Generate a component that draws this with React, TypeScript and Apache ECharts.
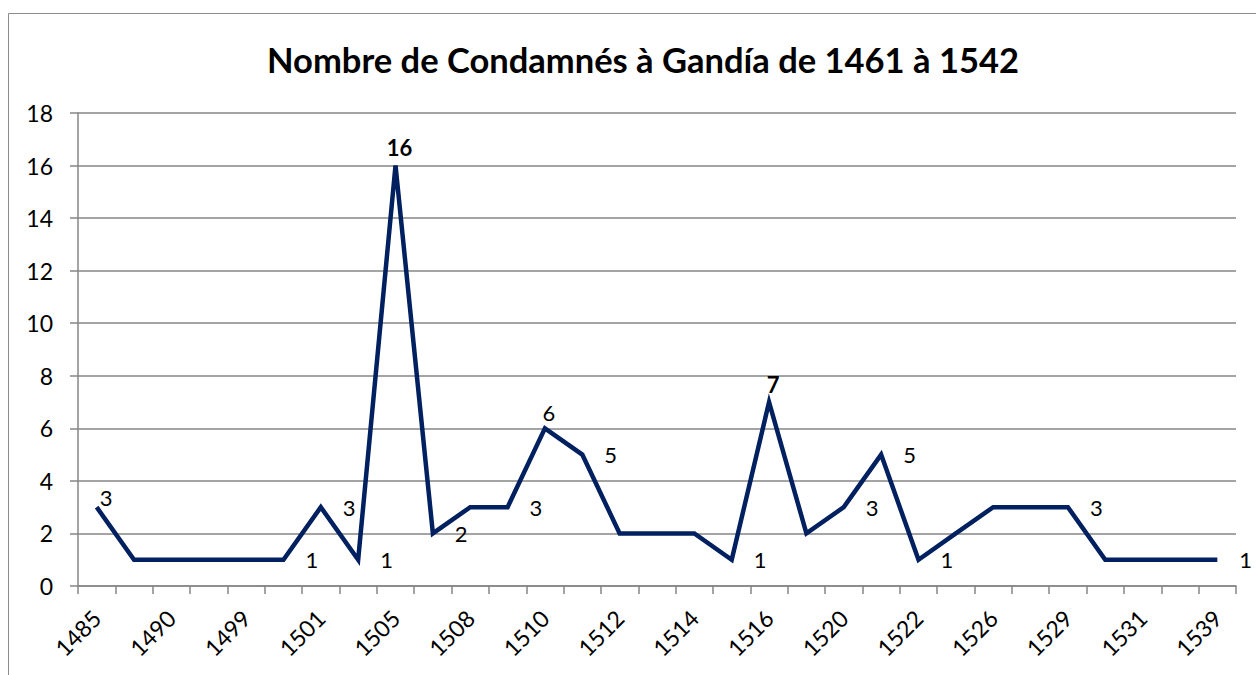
import React, { useEffect, useRef } from "react";
import * as echarts from "echarts";

const title = "Nombre de Condamnés à Gandía de 1461 à 1542";
const years = [
  "1485", "1488", "1490", "1495", "1499", "1500", "1501", "1503", "1505", "1507",
  "1508", "1509", "1510", "1511", "1512", "1513", "1514", "1515", "1516", "1518",
  "1520", "1521", "1522", "1524", "1526", "1527", "1529", "1530", "1531", "1535", "1539",
];
const condamnes = [
  3, 1, 1, 1, 1, 1, 3, 1, 16, 2,
  3, 3, 6, 5, 2, 2, 2, 1, 7, 2,
  3, 5, 1, 2, 3, 3, 3, 1, 1, 1, 1,
];
// which points carry a data label: "r" right, "t" top, "tb" top bold, "f" first
const labelKind: Record<number, string> = {
  0: "f", 5: "r", 6: "r", 7: "r", 8: "tb", 9: "r", 11: "r", 12: "t", 13: "r",
  17: "r", 18: "tb", 20: "r", 21: "r", 22: "r", 26: "r", 30: "r",
};
const yTicks = [0, 2, 4, 6, 8, 10, 12, 14, 16, 18];

const FONT = "Lato, 'Open Sans', sans-serif";

export default function App() {
  const ref = useRef<HTMLDivElement>(null);
  useEffect(() => {
    if (!ref.current) return;
    const chart = echarts.init(ref.current, undefined, { renderer: "svg" });
    const data = condamnes.map((v, i) => {
      const k = labelKind[i];
      let label: any = { show: false };
      if (k === "r") label = { show: true, position: "right", distance: 22 };
      else if (k === "t") label = { show: true, position: "top", distance: 5, offset: [4, 0] };
      else if (k === "tb") label = { show: true, position: "top", distance: 7, offset: [4, 0], fontWeight: "bold" };
      else if (k === "f") label = { show: true, position: "right", distance: 3, offset: [0, -10] };
      return { value: v, label };
    });
    chart.setOption({
      animation: false,
      backgroundColor: "#ffffff",
      title: {
        text: title,
        left: 638,
        textAlign: "center",
        top: 37,
        textStyle: { fontFamily: FONT, fontSize: 34.5, fontWeight: "bold", color: "#000" },
      },
      graphic: [
        {
          type: "rect",
          shape: { x: 8.5, y: 13.5, width: 1300, height: 700 },
          style: { fill: "none", stroke: "#8c8c8c", lineWidth: 1 },
          silent: true,
        },
      ],
      grid: { left: 78, right: 20, top: 113, bottom: 89, containLabel: false },
      xAxis: {
        type: "category",
        data: years,
        boundaryGap: true,
        axisLine: { lineStyle: { color: "#868686", width: 1.5 } },
        axisTick: { show: true, interval: 0, length: 8, lineStyle: { color: "#868686", width: 1.5 } },
        axisLabel: {
          interval: 1,
          rotate: 45,
          margin: 28,
          fontFamily: FONT,
          fontSize: 23,
          color: "#000",
        },
      },
      yAxis: {
        type: "value",
        min: 0,
        max: 18,
        interval: 2,
        axisLine: { show: true, lineStyle: { color: "#868686", width: 1.5 } },
        axisTick: { show: true, length: 8, lineStyle: { color: "#868686", width: 1.5 } },
        splitLine: { lineStyle: { color: "#868686", width: 1.5 } },
        axisLabel: {
          margin: 25,
          fontFamily: FONT,
          fontSize: 23,
          color: "#000",
          formatter: (v: number) => (yTicks.includes(v) ? String(v) : ""),
        },
      },
      series: [
        {
          type: "line",
          data,
          showSymbol: true,
          symbol: "circle",
          symbolSize: 0,
          lineStyle: { color: "#002060", width: 4.5, join: "miter" },
          itemStyle: { color: "#002060" },
          label: { fontFamily: FONT, fontSize: 22, color: "#000" },
        },
      ],
    });
    return () => chart.dispose();
  }, []);
  return (
    <div
      ref={ref}
      style={{ position: "fixed", left: 0, top: 0, width: 1256, height: 675 }}
    />
  );
}
